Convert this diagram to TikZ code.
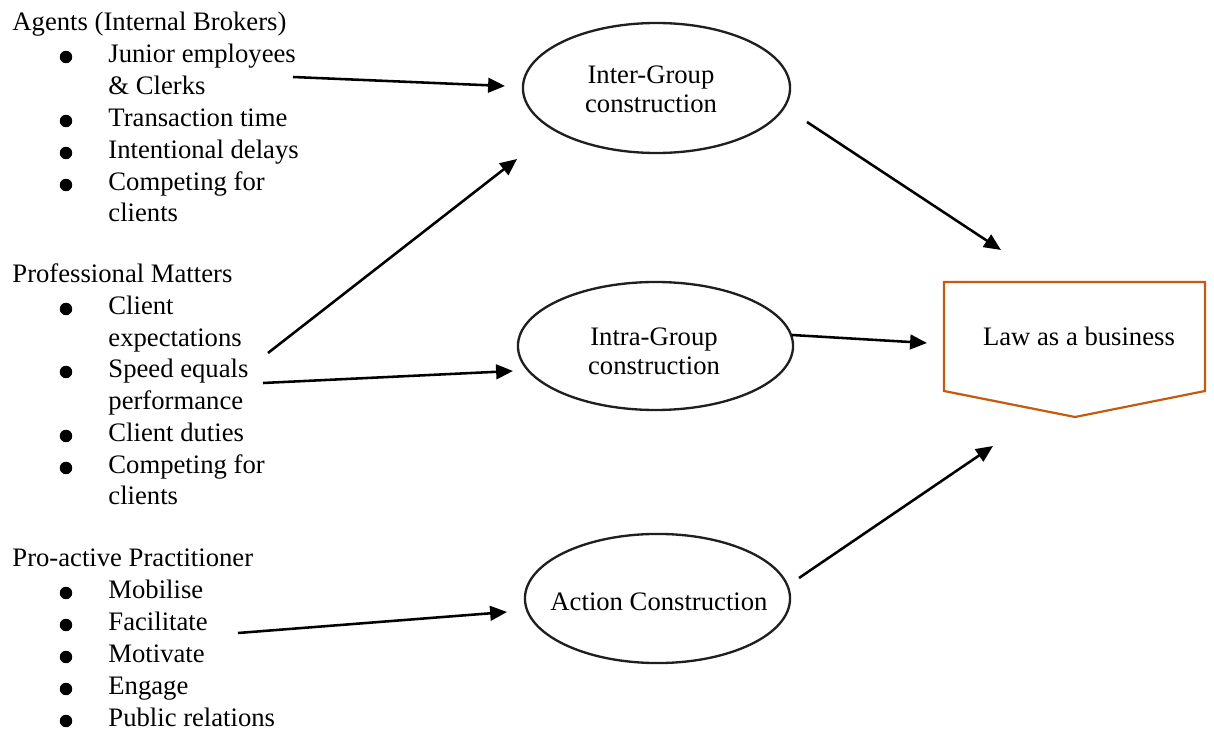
\documentclass[tikz,border=0pt]{standalone}
\usepackage{fontspec}
\setmainfont{Liberation Serif}
\usetikzlibrary{shapes.geometric,arrows.meta}
\definecolor{laworange}{HTML}{C55A11}
\begin{document}
\begin{tikzpicture}[x=0.45pt,y=-0.45pt,
  every node/.style={font=\fontsize{12pt}{14.3pt}\selectfont},
  txt/.style={inner sep=0pt, anchor=base west},
  ctr/.style={inner sep=0pt, anchor=base},
  oval/.style={ellipse, draw=black!88, line width=1.05pt, inner sep=0pt, outer sep=0pt},
  arr/.style={-{Triangle[length=7.6pt,width=6.6pt]}, line width=1.15pt, black},
  bul/.style={circle, fill=black, inner sep=0pt, minimum size=5.6pt}]
\useasboundingbox (0,0) rectangle (1214,735);

% ---- left column: Agents (Internal Brokers)
\node[txt] (hA) at (12,31) {Agents (Internal Brokers)};
\node[bul] (bA1) at (66,57) {};
\node[txt] (tA1) at (108,63) {Junior employees};
\node[txt] (tA1b) at (108,95) {\& Clerks};
\node[bul] (bA2) at (66,121) {};
\node[txt] (tA2) at (108,127) {Transaction time};
\node[bul] (bA3) at (66,153) {};
\node[txt] (tA3) at (108,159) {Intentional delays};
\node[bul] (bA4) at (66,185) {};
\node[txt] (tA4) at (108,191) {Competing for};
\node[txt] (tA4b) at (108,222) {clients};

% ---- left column: Professional Matters
\node[txt] (hB) at (12,283) {Professional Matters};
\node[bul] (bB1) at (66,309) {};
\node[txt] (tB1) at (108,315) {Client};
\node[txt] (tB1b) at (108,347) {expectations};
\node[bul] (bB2) at (66,372) {};
\node[txt] (tB2) at (108,378) {Speed equals};
\node[txt] (tB2b) at (108,410) {performance};
\node[bul] (bB3) at (66,436) {};
\node[txt] (tB3) at (108,442) {Client duties};
\node[bul] (bB4) at (66,468) {};
\node[txt] (tB4) at (108,474) {Competing for};
\node[txt] (tB4b) at (108,505) {clients};

% ---- left column: Pro-active Practitioner
\node[txt] (hC) at (12,567) {Pro-active Practitioner};
\node[bul] (bC1) at (66,593) {};
\node[txt] (tC1) at (108,599) {Mobilise};
\node[bul] (bC2) at (66,625) {};
\node[txt] (tC2) at (108,631) {Facilitate};
\node[bul] (bC3) at (66,657) {};
\node[txt] (tC3) at (108,663) {Motivate};
\node[bul] (bC4) at (66,689) {};
\node[txt] (tC4) at (108,695) {Engage};
\node[bul] (bC5) at (66,721) {};
\node[txt] (tC5) at (108,727) {Public relations};

% ---- constructions
\node[oval, minimum width=120.2pt, minimum height=58.5pt] (inter) at (656.5,88) {};
\node[ctr] (interL1) at (651,84) {Inter-Group};
\node[ctr] (interL2) at (651,113) {construction};

\node[oval, minimum width=123.8pt, minimum height=57.6pt] (intra) at (655.5,346) {};
\node[ctr] (intraL1) at (654,346) {Intra-Group};
\node[ctr] (intraL2) at (654,375) {construction};

\node[oval, minimum width=119.3pt, minimum height=58.1pt] (action) at (657.5,598.5) {};
\node[ctr] (actionL) at (659,611) {Action Construction};

% ---- outcome: Law as a business
\draw[laworange, line width=1pt, line join=miter]
  (944,282) -- (1205,282) -- (1205,391) -- (1075,417) -- (944,391) -- cycle;
\node[ctr] (law) at (1079,346) {Law as a business};

% ---- connector end points
\coordinate (a1s) at (293,77);   \coordinate (a1e) at (505,86);
\coordinate (a2s) at (268,353);  \coordinate (a2e) at (517,159);
\coordinate (a3s) at (263,383);  \coordinate (a3e) at (513,371);
\coordinate (a4s) at (238,633);  \coordinate (a4e) at (507,612);
\coordinate (a5s) at (807,122);  \coordinate (a5e) at (1001,250);
\coordinate (a6s) at (792,335);  \coordinate (a6e) at (927,343);
\coordinate (a7s) at (799,578);  \coordinate (a7e) at (993,446);

% ---- connectors
\draw[arr] (a1s) -- (a1e);
\draw[arr] (a2s) -- (a2e);
\draw[arr] (a3s) -- (a3e);
\draw[arr] (a4s) -- (a4e);
\draw[arr] (a5s) -- (a5e);
\draw[arr] (a6s) -- (a6e);
\draw[arr] (a7s) -- (a7e);
\end{tikzpicture}
\end{document}
